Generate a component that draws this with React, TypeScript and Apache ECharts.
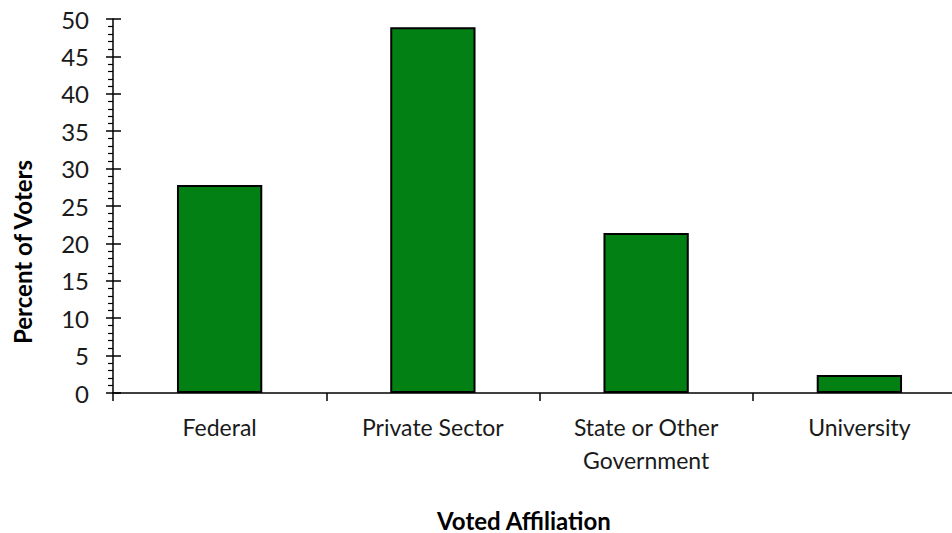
import React, { useEffect, useRef } from "react";
import * as echarts from "echarts";

const categories = ["Federal", "Private Sector", "State or Other\nGovernment", "University"];
const percentVoters = [27.8, 48.9, 21.4, 2.4];
const yTicks = { min: 0, max: 50, interval: 5 };
const xTitle = "Voted Affiliation";
const yTitle = "Percent of Voters";

const FONT = "Lato, 'Open Sans', sans-serif";

export default function App() {
  const ref = useRef<HTMLDivElement>(null);
  useEffect(() => {
    if (!ref.current) return;
    const chart = echarts.init(ref.current, null, { renderer: "svg" });
    chart.setOption({
      animation: false,
      backgroundColor: "#ffffff",
      grid: {
        left: 113,
        top: 19,
        width: 853,
        height: 374,
        containLabel: false,
        outerBoundsMode: "none",
      },
      xAxis: {
        type: "category",
        data: categories,
        axisLine: { show: true, lineStyle: { color: "#000", width: 1.5 } },
        axisTick: { show: true, inside: false, length: 8, lineStyle: { color: "#000", width: 1.5 } },
        axisLabel: {
          color: "#1a1a1a",
          fontFamily: FONT,
          fontSize: 23,
          margin: 17,
          lineHeight: 33,
          verticalAlign: "top",
        },
        splitLine: { show: false },
      },
      yAxis: [
        {
          type: "value",
          min: yTicks.min,
          max: yTicks.max,
          interval: yTicks.interval,
          axisLine: { show: true, onZero: false, lineStyle: { color: "#000", width: 1.5 } },
          axisTick: { show: true, inside: false, length: 7, lineStyle: { color: "#000", width: 1.5 } },
          minorTick: { show: true, splitNumber: 5, length: 5, lineStyle: { color: "#000", width: 1.2 } },
          axisLabel: { color: "#1a1a1a", fontFamily: FONT, fontSize: 24, margin: 24 },
          splitLine: { show: false },
        },
        {
          type: "value",
          position: "left",
          min: yTicks.min,
          max: yTicks.max,
          interval: yTicks.interval,
          axisLine: { show: false },
          axisTick: { show: true, inside: true, length: 8, lineStyle: { color: "#000", width: 1.5 } },
          axisLabel: { show: false },
          splitLine: { show: false },
        },
      ],
      series: [
        {
          type: "bar",
          data: percentVoters,
          barWidth: "40%",
          itemStyle: { color: "#038014", borderColor: "#000", borderWidth: 2 },
        },
      ],
      graphic: [
        {
          type: "text",
          x: 524,
          y: 520,
          style: {
            text: xTitle,
            fontFamily: FONT,
            fontSize: 24,
            fontWeight: "bold",
            fill: "#000",
            align: "center",
            verticalAlign: "middle",
          },
        },
        {
          type: "text",
          x: 22,
          y: 252,
          rotation: Math.PI / 2,
          style: {
            text: yTitle,
            fontFamily: FONT,
            fontSize: 24,
            fontWeight: "bold",
            fill: "#000",
            align: "center",
            verticalAlign: "middle",
          },
        },
      ],
    });
    return () => chart.dispose();
  }, []);
  return (
    <div
      ref={ref}
      style={{ position: "absolute", left: 0, top: 0, width: 952, height: 533 }}
    />
  );
}
